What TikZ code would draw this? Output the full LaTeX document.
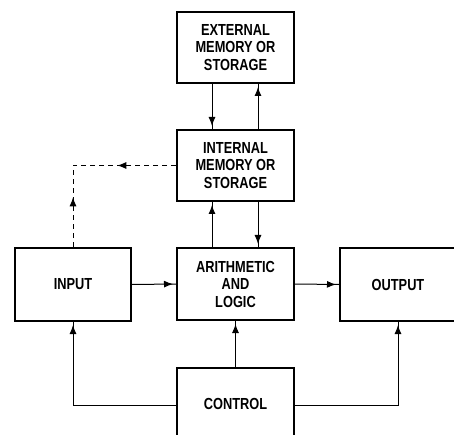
\documentclass[tikz,border=0pt]{standalone}
\usepackage{fontspec}
\newfontfamily\labfont[FakeStretch=0.8]{Liberation Sans}
\usetikzlibrary{arrows.meta,decorations.markings,calc}
\begin{document}
\begin{tikzpicture}[x=1pt,y=-1pt,
  box/.style={draw=black,line width=2pt,fill=white,minimum width=117pt,align=center,
    font=\labfont\bfseries\fontsize{16}{17.5}\selectfont,inner sep=0pt},
  conn/.style={line width=1pt},
  tipend/.style={postaction={decorate},decoration={markings,
    mark=at position -3pt with {\arrow{Latex[length=9pt,width=7pt]}}}},
  tipmid/.style={postaction={decorate},decoration={markings,
    mark=at position #1 with {\arrow{Latex[length=9pt,width=7pt]}}}},
  dash9/.style={dash pattern=on 5pt off 4pt}]
\useasboundingbox (0,0) rectangle (454,435);
\clip (0,0) rectangle (454,435);
\fill[white] (0,0) rectangle (454,435);
\node[box,minimum height=71pt] (ext) at (235.5,47.5) {EXTERNAL\\MEMORY OR\\STORAGE};
\node[box,minimum height=71pt] (int) at (235.5,165.5) {INTERNAL\\MEMORY OR\\STORAGE};
\node[box,minimum height=73pt,minimum width=116pt] (inp) at (73,284.5) {INPUT};
\node[box,minimum height=72pt] (alu) at (235.5,284) {ARITHMETIC\\AND\\LOGIC};
\node[box,minimum height=73pt,minimum width=116pt] (out) at (398,284.5) {OUTPUT};
\node[box,minimum height=72pt] (ctl) at (235.5,404) {CONTROL};
% memory links
\draw[conn,tipend] ([xshift=-23.5pt]ext.south) -- ([xshift=-23.5pt]int.north);
\draw[conn,tipend] ([xshift=22.5pt]int.north) -- ([xshift=22.5pt]ext.south);
\draw[conn,tipend] ([xshift=-23.5pt]alu.north) -- ([xshift=-23.5pt]int.south);
\draw[conn,tipend] ([xshift=22.5pt]int.south) -- ([xshift=22.5pt]alu.north);
% data flow
\draw[conn,tipend] (inp.east) -- (alu.west);
\draw[conn,tipend] (alu.east) -- (out.west);
% control
\draw[conn,tipend] (ctl.north) -- (alu.south);
\draw[conn,tipend] ([yshift=-1pt]ctl.west) -| (inp.south);
\draw[conn,tipend] ([yshift=-1pt]ctl.east) -| (out.south);
% dashed
\coordinate (dc) at (inp.north |- int.west);
\draw[conn,dash9,tipmid=0.57] (int.west) -- (dc);
\draw[conn,dash9,tipmid=0.61] (inp.north) -- (dc);
\end{tikzpicture}
\end{document}
